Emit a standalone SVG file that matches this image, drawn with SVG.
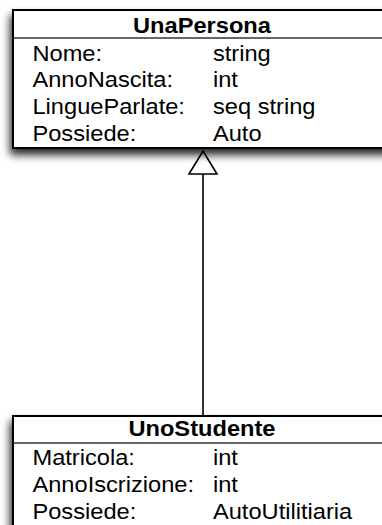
<svg xmlns="http://www.w3.org/2000/svg" width="382" height="525" viewBox="0 0 382 525">
<defs>
<filter id="sh" x="-20%" y="-20%" width="140%" height="160%">
<feDropShadow dx="-2" dy="6" stdDeviation="4" flood-color="#000" flood-opacity="0.85"/>
</filter>
<style>
.box{fill:#fff;stroke:#000;stroke-width:2}
.sep{stroke:#333;stroke-width:1.5}
.t{font-family:"Liberation Sans",Arial,Helvetica,sans-serif;font-size:21.5px;fill:#000}
.h{font-weight:bold;text-anchor:middle}
</style>
</defs>
<g id="edges">
<line x1="203" y1="174" x2="203" y2="416" stroke="#000" stroke-width="1.6"/>
<polygon points="203,151 217,174 189,174" fill="#fff" stroke="#000" stroke-width="1.6"/>
</g>
<g id="UnaPersona">
<rect class="box" x="13" y="10" width="380" height="138" filter="url(#sh)"/>
<line class="sep" x1="13" y1="38" x2="393" y2="38"/>
<g transform="scale(1.1 1)">
<text class="t h" x="183.6" y="33.5">UnaPersona</text>
<text class="t" x="29.5" y="60.7">Nome:</text>
<text class="t" x="193.6" y="60.7">string</text>
<text class="t" x="29.5" y="87.5">AnnoNascita:</text>
<text class="t" x="193.6" y="87.5">int</text>
<text class="t" x="29.5" y="114.5">LingueParlate:</text>
<text class="t" x="193.6" y="114.5">seq string</text>
<text class="t" x="29.5" y="141.5">Possiede:</text>
<text class="t" x="193.6" y="141.5">Auto</text>
</g>
</g>
<g id="UnoStudente">
<rect class="box" x="13" y="416" width="380" height="130" filter="url(#sh)"/>
<line class="sep" x1="13" y1="443" x2="393" y2="443"/>
<g transform="scale(1.1 1)">
<text class="t h" x="183.6" y="436">UnoStudente</text>
<text class="t" x="29.5" y="465">Matricola:</text>
<text class="t" x="193.6" y="465">int</text>
<text class="t" x="29.5" y="492">AnnoIscrizione:</text>
<text class="t" x="193.6" y="492">int</text>
<text class="t" x="29.5" y="519">Possiede:</text>
<text class="t" x="193.6" y="519">AutoUtilitiaria</text>
</g>
</g>
</svg>
